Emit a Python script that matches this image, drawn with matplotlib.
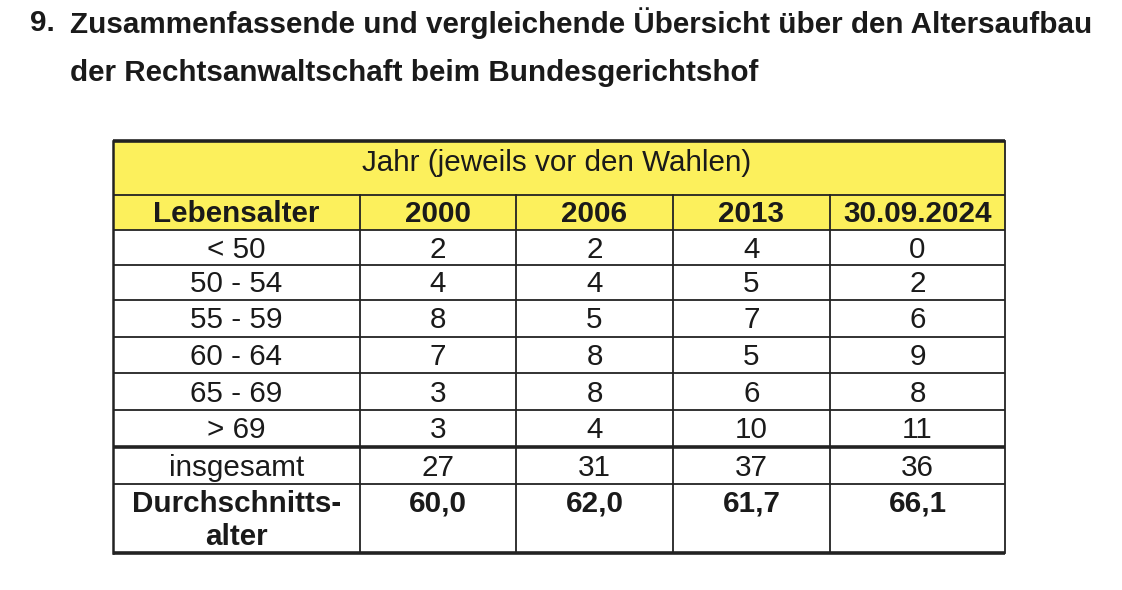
import matplotlib.pyplot as plt

# daten aus der tabelle
age_groups = ["< 50", "50 - 54", "55 - 59", "60 - 64", "65 - 69", "> 69"]
years = ["2000", "2006", "2013", "30.09.2024"]
counts_2000 = [2, 4, 8, 7, 3, 3]
counts_2006 = [2, 4, 5, 8, 8, 4]
counts_2013 = [4, 5, 7, 5, 6, 10]
counts_2024 = [0, 2, 6, 9, 8, 11]
totals = [27, 31, 37, 36]
avg_age = [60.0, 62.0, 61.7, 66.1]

title_1 = "Zusammenfassende und vergleichende Übersicht über den Altersaufbau"
title_2 = "der Rechtsanwaltschaft beim Bundesgerichtshof"
group_header = "Jahr (jeweils vor den Wahlen)"

# layout in pixeln
col_x = [113, 360, 516, 673, 830, 1005]
row_y = [141, 195, 230, 265, 300, 337, 373, 410, 447, 484, 553]
yellow = "#fcf05c"

plt.rcParams['font.family'] = ['Liberation Sans', 'DejaVu Sans']

fig = plt.figure(figsize=(11.22, 5.90), dpi=100)
ax = fig.add_axes([0, 0, 1, 1])
ax.set_xlim(0, 1122)
ax.set_ylim(590, 0)
ax.axis('off')

tc = '#1a1a1a'
ts = 21.3
fs = 21.3
dy = 2  # text etwas tiefer setzen
ax.text(30, 23, "9.", fontsize=ts, fontweight='bold', va='center', color=tc)
ax.text(70, 23, title_1, fontsize=ts, fontweight='bold', va='center', color=tc)
ax.text(70, 73, title_2, fontsize=ts, fontweight='bold', va='center', color=tc)

# gelbe kopfzeilen
ax.fill_between([col_x[0], col_x[-1]], row_y[0], row_y[2], color=yellow, lw=0)

def mid(a, b):
    return (a + b) / 2

ax.text(mid(col_x[0], col_x[-1]) - 2, mid(row_y[0], row_y[1]) - 5, group_header,
        fontsize=fs, ha='center', va='center', color=tc)
ax.text(mid(col_x[0], col_x[1]), mid(row_y[1], row_y[2]) + 1, "Lebensalter",
        fontsize=fs, fontweight='bold', ha='center', va='center', color=tc)
for j, y in enumerate(years):
    ax.text(mid(col_x[j + 1], col_x[j + 2]), mid(row_y[1], row_y[2]) + 1, y,
            fontsize=fs, fontweight='bold', ha='center', va='center', color=tc)

cols = [counts_2000, counts_2006, counts_2013, counts_2024]
for i, g in enumerate(age_groups):
    yc = mid(row_y[i + 2], row_y[i + 3]) + dy
    ax.text(mid(col_x[0], col_x[1]), yc, g, fontsize=fs, ha='center', va='center', color=tc)
    for j, c in enumerate(cols):
        ax.text(mid(col_x[j + 1], col_x[j + 2]), yc, str(c[i]),
                fontsize=fs, ha='center', va='center', color=tc)

yc = mid(row_y[8], row_y[9]) + dy
ax.text(mid(col_x[0], col_x[1]), yc, "insgesamt", fontsize=fs, ha='center', va='center', color=tc)
for j, t in enumerate(totals):
    ax.text(mid(col_x[j + 1], col_x[j + 2]), yc, str(t), fontsize=fs, ha='center', va='center', color=tc)

ax.text(mid(col_x[0], col_x[1]), mid(row_y[9], row_y[10]) + 2, "Durchschnitts-\nalter",
        fontsize=fs, fontweight='bold', ha='center', va='center', linespacing=1.2, color=tc)
for j, a in enumerate(avg_age):
    ax.text(mid(col_x[j + 1], col_x[j + 2]), row_y[9] + 19, f"{a:.1f}".replace('.', ','),
            fontsize=fs, fontweight='bold', ha='center', va='center', color=tc)

# linien
lc = '#222222'
for k, y in enumerate(row_y):
    lw = 1.3
    if k in (0, 8, 10):
        lw = 2.6
    ax.plot([col_x[0], col_x[-1]], [y, y], color=lc, lw=lw, solid_capstyle='butt')
for k, x in enumerate(col_x):
    y0 = row_y[0] if k in (0, len(col_x) - 1) else row_y[1]
    lw = 1.8 if k == 0 else 1.3
    ax.plot([x, x], [y0, row_y[-1]], color=lc, lw=lw)

fig.savefig("out.png", dpi=100)
